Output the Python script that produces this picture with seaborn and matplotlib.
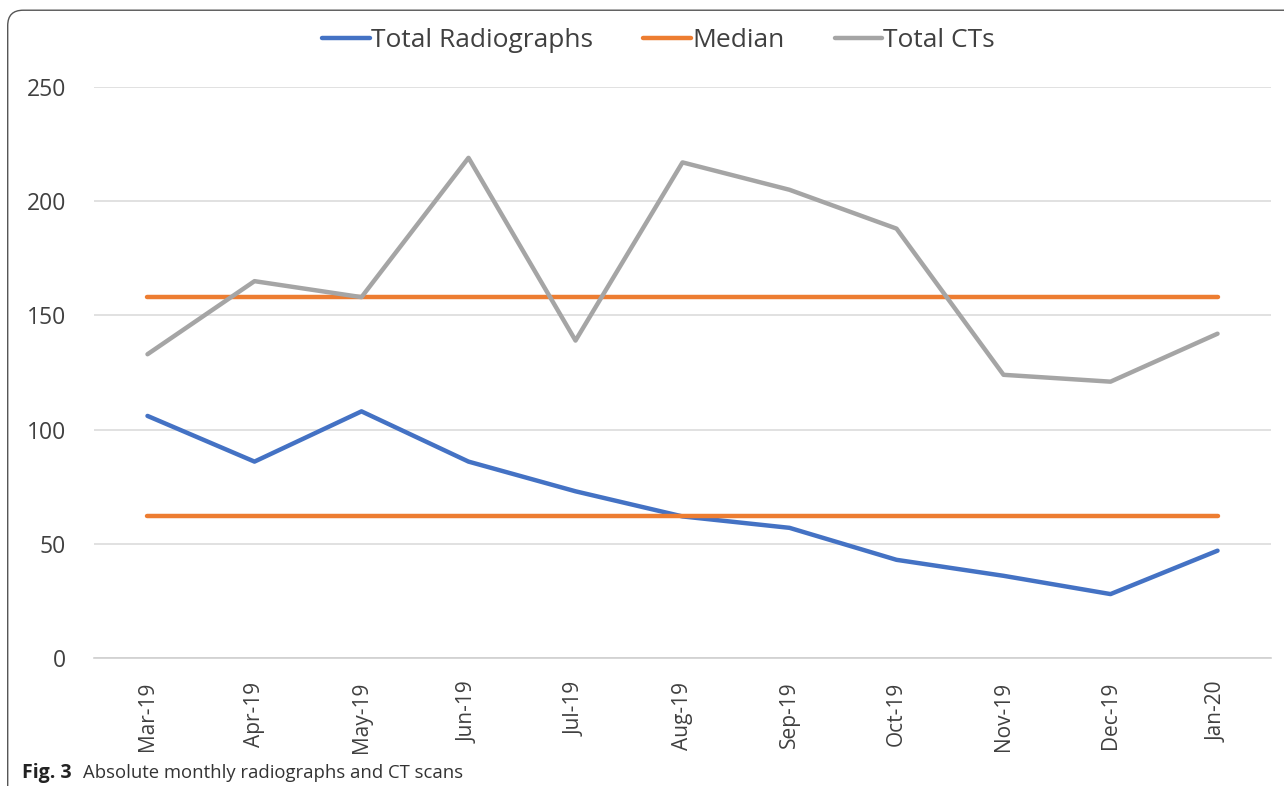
import pandas as pd
import matplotlib.pyplot as plt
import seaborn as sns
from matplotlib.patches import FancyBboxPatch

# data
months = ['Mar-19', 'Apr-19', 'May-19', 'Jun-19', 'Jul-19', 'Aug-19',
          'Sep-19', 'Oct-19', 'Nov-19', 'Dec-19', 'Jan-20']
radiographs = [106, 86, 108, 86, 73, 62, 57, 43, 36, 28, 47]
cts = [133, 165, 158, 219, 139, 217, 205, 188, 124, 121, 142]
median_radiographs = 62
median_cts = 158

sns.set_style('white')
plt.rcParams['font.family'] = ['Open Sans', 'DejaVu Sans']

df = pd.DataFrame({'idx': range(len(months)), 'month': months,
                   'rad': radiographs, 'ct': cts,
                   'med_rad': [median_radiographs] * len(months),
                   'med_ct': [median_cts] * len(months)})

fig = plt.figure(figsize=(12.84, 7.86), dpi=100)
ax = fig.add_axes([0.0732, 0.1628, 0.9167, 0.7265])

blue, orange, gray = '#4472C4', '#ED7D31', '#A5A5A5'
lw = 3.2
sns.lineplot(data=df, x='idx', y='rad', color=blue, lw=lw, ax=ax, label='Total Radiographs')
sns.lineplot(data=df, x='idx', y='med_rad', color=orange, lw=lw, ax=ax, label='Median')
sns.lineplot(data=df, x='idx', y='med_ct', color=orange, lw=lw, ax=ax)
sns.lineplot(data=df, x='idx', y='ct', color=gray, lw=lw, ax=ax, label='Total CTs')

ax.set_xlim(-0.5, len(months) - 0.5)
ax.set_ylim(0, 250)
ax.set_yticks(range(0, 251, 50))
ax.set_xticks(df['idx'])
ax.set_xticklabels(months, rotation=90, fontsize=15, color='#404040')
ax.set_xticks([i - 0.5 for i in range(len(months) + 1)], minor=True)
ax.tick_params(axis='x', which='major', length=0, pad=17)
ax.tick_params(axis='x', which='minor', length=9, color='#D0D0D0', width=1.2, direction='out')
ax.tick_params(axis='y', length=0, labelsize=16.5, labelcolor='#404040', pad=20)
ax.grid(axis='y', color='#DCDCDC', lw=1.2)
ax.set_axisbelow(True)
for s in ['top', 'right', 'left']:
    ax.spines[s].set_visible(False)
ax.spines['bottom'].set_color('#D0D0D0')
ax.spines['bottom'].set_linewidth(1.2)
ax.set_xlabel('')
ax.set_ylabel('')

ax.legend(loc='center', bbox_to_anchor=(0.513, 0.948), bbox_transform=fig.transFigure,
          ncol=3, frameon=False, fontsize=19, handlelength=1.8, handletextpad=0.05,
          columnspacing=1.9, labelcolor='#404040')

# rounded frame (top & left edges visible)
frame = FancyBboxPatch((0.006, -0.05), 1.2, 1.037, boxstyle='round,pad=0,rounding_size=0.012',
                       transform=fig.transFigure, fill=False, ec='#555555', lw=1.0,
                       mutation_aspect=1284 / 786)
fig.add_artist(frame)

fig.text(0.017, 0.010, 'Fig. 3', fontsize=14, fontweight='bold', color='#222222')
fig.text(0.0646, 0.010, 'Absolute monthly radiographs and CT scans', fontsize=13.3, color='#333333')

fig.savefig('out.png', dpi=100)
